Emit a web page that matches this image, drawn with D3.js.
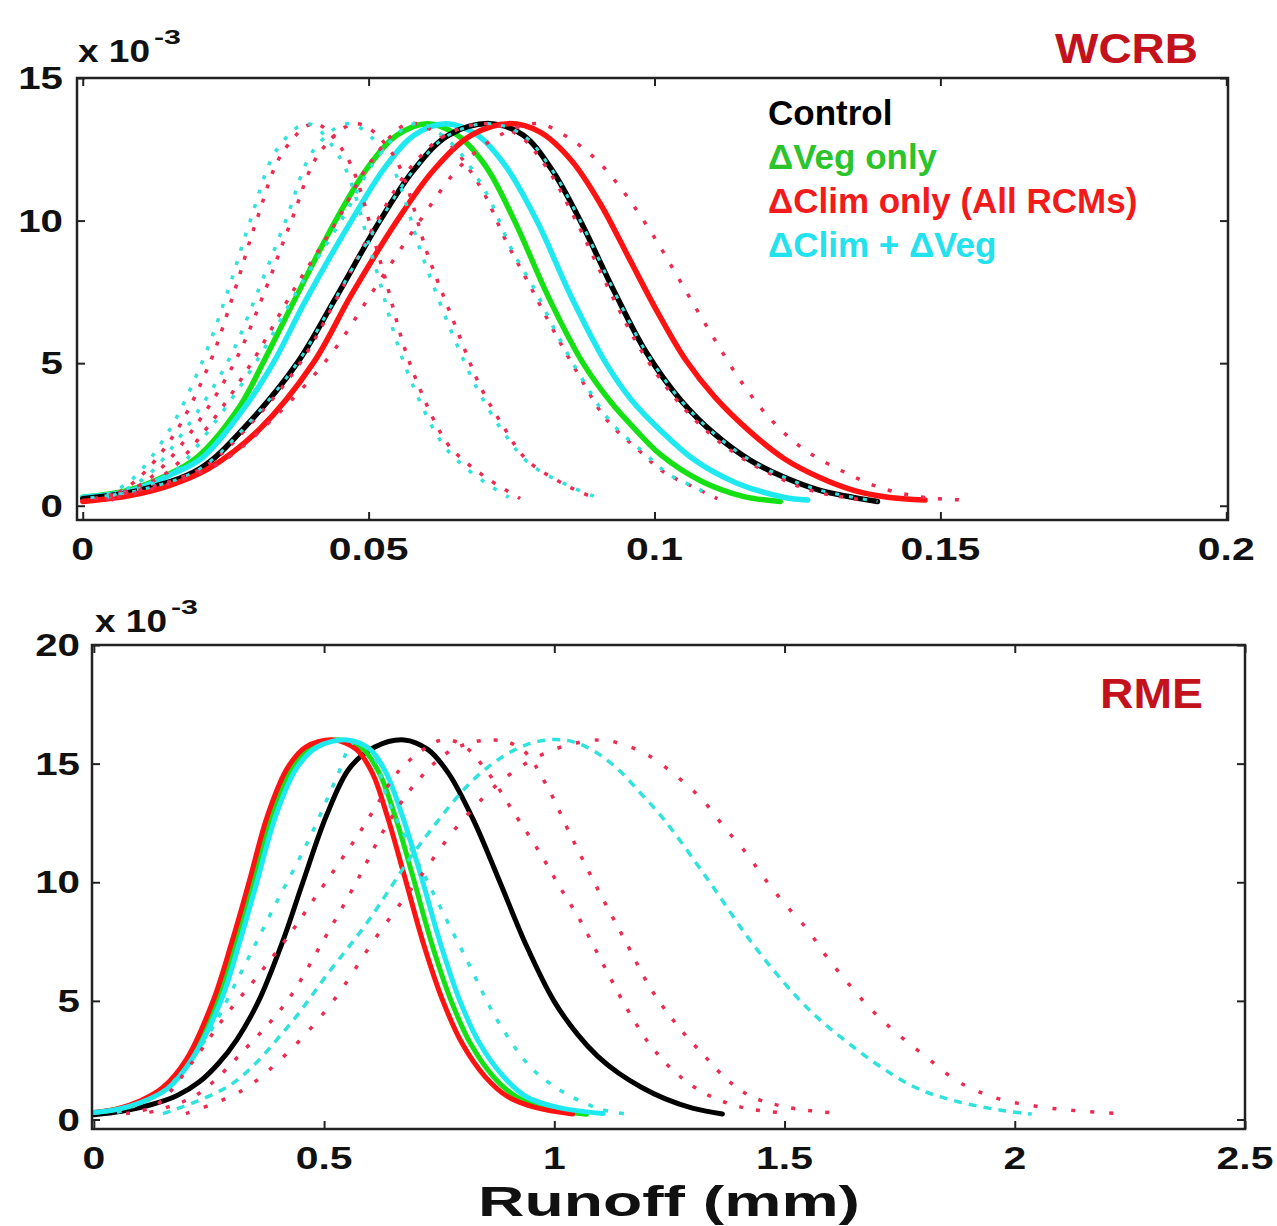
<!DOCTYPE html>
<html><head><meta charset="utf-8">
<script src="https://cdn.jsdelivr.net/npm/d3@7"></script>
<style>body{margin:0;background:#fff}svg{display:block}</style>
</head><body>
<svg id="c" width="1277" height="1226"></svg>
<script>
// ---------------- DATA (y values in units of 10^-3) ----------------
// Top panel: WCRB, runoff (mm)
const wcrbXTicks = [0, 0.05, 0.1, 0.15, 0.2];
const wcrbXTickLabels = ["0", "0.05", "0.1", "0.15", "0.2"];
const wcrbYTicks = [0, 5, 10, 15];
const wcrbYTickLabels = ["0", "5", "10", "15"];

const wcrbControl = [[0,0.25],[0.01,0.55],[0.0205,1.3],[0.029,2.9],[0.0375,5.0],[0.044,7.2],[0.052,10.0],[0.058,11.8],[0.064,13.0],[0.0712,13.4],[0.077,13.0],[0.082,11.8],[0.087,10.0],[0.093,7.5],[0.0985,5.4],[0.1046,3.7],[0.1106,2.5],[0.1167,1.6],[0.1227,1.0],[0.1288,0.55],[0.139,0.15]];
const wcrbVegOnly = [[0,0.3],[0.008,0.55],[0.015,1.1],[0.02,1.7],[0.0275,3.5],[0.0315,5.0],[0.037,7.2],[0.0445,10.1],[0.05,11.9],[0.055,13.0],[0.0603,13.4],[0.0655,13.0],[0.0705,11.9],[0.0755,10.0],[0.0815,7.3],[0.0875,5.0],[0.0925,3.6],[0.0963,2.75],[0.101,1.8],[0.1083,0.85],[0.1155,0.33],[0.122,0.15]];
const wcrbClimOnly = [[0,0.15],[0.008,0.35],[0.015,0.7],[0.022,1.3],[0.031,2.7],[0.0403,5.0],[0.047,7.4],[0.055,10.0],[0.0615,11.8],[0.068,13.0],[0.0745,13.4],[0.08,13.1],[0.0855,12.1],[0.0905,10.6],[0.0955,8.7],[0.1005,6.8],[0.1055,5.1],[0.1106,3.8],[0.1167,2.6],[0.1227,1.65],[0.1288,1.0],[0.1347,0.55],[0.1408,0.3],[0.1473,0.2]];
const wcrbClimVeg = [[0,0.3],[0.008,0.5],[0.0155,1.1],[0.021,1.7],[0.0285,3.5],[0.0333,5.0],[0.039,7.2],[0.047,10.0],[0.053,11.9],[0.058,13.0],[0.0635,13.4],[0.069,13.0],[0.074,11.9],[0.0794,10.0],[0.0855,7.3],[0.0915,5.0],[0.096,3.7],[0.101,2.65],[0.107,1.6],[0.1143,0.8],[0.1226,0.3],[0.1268,0.2]];

// individual RCMs, climate change only (red dotted)
const wcrbClimRcmA = [[0.004,0.2],[0.0094,0.9],[0.016,2.5],[0.0222,5.0],[0.0265,7.5],[0.0304,10.0],[0.035,12.4],[0.0405,13.4],[0.046,12.3],[0.052,8.6],[0.0572,5.0],[0.0637,2.2],[0.0672,1.5],[0.0712,0.9],[0.0765,0.25]];
const wcrbClimRcmB = [[0.005,0.2],[0.012,1.0],[0.019,2.6],[0.0265,5.0],[0.032,7.6],[0.0365,10.0],[0.0415,12.4],[0.0478,13.4],[0.054,12.4],[0.0607,8.6],[0.0654,6.2],[0.0695,4.2],[0.0735,2.8],[0.0777,1.6],[0.0847,0.7],[0.0892,0.3]];
const wcrbClimRcmC = [[0.002,0.25],[0.009,0.6],[0.015,1.2],[0.022,2.8],[0.0295,5.0],[0.037,7.6],[0.0445,10.0],[0.0505,12.1],[0.057,13.4],[0.063,12.9],[0.0695,11.2],[0.074,9.3],[0.078,7.8],[0.0822,6.2],[0.087,4.5],[0.0917,3.0],[0.0975,1.9],[0.1015,1.2],[0.1074,0.6],[0.111,0.25]];
const wcrbClimRcmD = [[0.002,0.25],[0.011,0.6],[0.0215,1.4],[0.0295,2.9],[0.038,5.0],[0.0445,7.3],[0.0515,10.0],[0.0575,11.9],[0.0635,13.0],[0.0705,13.4],[0.0762,13.0],[0.081,11.9],[0.086,10.1],[0.092,7.6],[0.0975,5.5],[0.1035,3.8],[0.1095,2.55],[0.1155,1.65],[0.1215,1.0],[0.128,0.5],[0.1365,0.2]];
const wcrbClimRcmE = [[0.006,0.3],[0.014,0.7],[0.024,1.5],[0.033,3.0],[0.043,5.2],[0.051,7.6],[0.059,10.0],[0.066,11.9],[0.073,13.0],[0.0795,13.4],[0.085,12.9],[0.09,12.1],[0.095,10.9],[0.1,9.4],[0.105,7.7],[0.11,6.0],[0.115,4.4],[0.12,3.1],[0.126,2.0],[0.133,1.2],[0.14,0.6],[0.147,0.3],[0.154,0.2]];
// individual RCMs, climate + vegetation change (cyan dotted)
const wcrbClimVegRcmA = [[0.003,0.25],[0.0085,0.9],[0.015,2.6],[0.021,5.1],[0.0255,7.6],[0.0293,10.0],[0.034,12.5],[0.0393,13.4],[0.045,12.2],[0.051,8.5],[0.0562,5.0],[0.0625,2.3],[0.066,1.5],[0.0705,0.8],[0.0745,0.3]];
const wcrbClimVegRcmB = [[0.004,0.25],[0.011,1.0],[0.018,2.7],[0.0255,5.1],[0.031,7.7],[0.0355,10.0],[0.0405,12.5],[0.0465,13.4],[0.053,12.3],[0.0595,8.7],[0.0645,6.1],[0.069,4.1],[0.0735,2.6],[0.078,1.5],[0.085,0.7],[0.0905,0.25]];
const wcrbClimVegRcmC = [[0.003,0.25],[0.01,0.6],[0.016,1.2],[0.023,2.9],[0.0305,5.1],[0.038,7.7],[0.0455,10.1],[0.0515,12.2],[0.058,13.4],[0.064,12.8],[0.0705,11.0],[0.075,9.0],[0.079,7.6],[0.083,6.0],[0.0878,4.3],[0.0925,2.9],[0.0985,1.8],[0.1025,1.1],[0.108,0.55],[0.1095,0.3]];
const wcrbClimVegRcmD = [[0,0.25],[0.01,0.55],[0.0205,1.3],[0.029,2.9],[0.0375,5.0],[0.044,7.2],[0.052,10.0],[0.058,11.8],[0.064,13.0],[0.0712,13.4],[0.077,13.0],[0.082,11.8],[0.087,10.0],[0.093,7.5],[0.0985,5.4],[0.1046,3.7],[0.1106,2.5],[0.1167,1.6],[0.1227,1.0],[0.1288,0.55],[0.139,0.15]];

// Bottom panel: RME
const rmeXTicks = [0, 0.5, 1, 1.5, 2, 2.5];
const rmeXTickLabels = ["0", "0.5", "1", "1.5", "2", "2.5"];
const rmeYTicks = [0, 5, 10, 15, 20];
const rmeYTickLabels = ["0", "5", "10", "15", "20"];

const rmeControl = [[0,0.2],[0.06,0.35],[0.12,0.6],[0.18,1.0],[0.23,1.6],[0.27,2.35],[0.31,3.35],[0.358,5.0],[0.41,7.5],[0.454,10.0],[0.505,12.8],[0.555,14.8],[0.61,15.7],[0.674,16.0],[0.725,15.6],[0.77,14.6],[0.825,12.6],[0.882,10.0],[0.94,7.3],[0.999,5.0],[1.05,3.6],[1.095,2.65],[1.14,1.95],[1.19,1.35],[1.24,0.88],[1.3,0.48],[1.365,0.23]];
const rmeVegOnly = [[0,0.3],[0.05,0.44],[0.1,0.72],[0.155,1.3],[0.207,2.55],[0.267,5.0],[0.308,7.5],[0.345,10.0],[0.386,12.8],[0.43,14.8],[0.472,15.7],[0.535,16.0],[0.585,15.6],[0.62,14.6],[0.654,12.8],[0.692,10.3],[0.734,7.4],[0.776,5.0],[0.818,3.2],[0.868,1.8],[0.918,0.95],[0.98,0.48],[1.07,0.22]];
const rmeClimOnly = [[0,0.3],[0.05,0.45],[0.1,0.78],[0.15,1.35],[0.2,2.5],[0.259,5.0],[0.3,7.5],[0.337,10.0],[0.377,12.8],[0.42,14.8],[0.46,15.7],[0.52,16.0],[0.57,15.6],[0.605,14.6],[0.637,12.8],[0.674,10.3],[0.716,7.4],[0.758,5.0],[0.8,3.2],[0.85,1.8],[0.9,0.95],[0.96,0.5],[1.04,0.23]];
const rmeClimVeg = [[0,0.3],[0.05,0.42],[0.1,0.7],[0.16,1.3],[0.215,2.6],[0.276,5.0],[0.317,7.5],[0.354,10.0],[0.395,12.8],[0.44,14.8],[0.485,15.7],[0.55,16.0],[0.6,15.6],[0.635,14.6],[0.67,12.8],[0.71,10.3],[0.753,7.4],[0.795,5.0],[0.838,3.2],[0.89,1.8],[0.94,0.95],[1.01,0.5],[1.106,0.25]];

const rmeClimRcm1 = [[0.07,0.25],[0.135,0.6],[0.217,2.5],[0.283,4.3],[0.358,6.1],[0.425,7.8],[0.475,9.2],[0.525,10.6],[0.574,12.0],[0.616,13.3],[0.658,14.6],[0.716,15.6],[0.757,16.0],[0.8,15.8],[0.853,14.7],[0.91,13.0],[0.97,11.2],[1.012,9.8],[1.056,8.4],[1.11,6.4],[1.16,4.6],[1.21,3.1],[1.262,2.0],[1.327,1.1],[1.41,0.5],[1.5,0.28]];
const rmeClimRcm2 = [[0.1,0.2],[0.22,1.0],[0.33,3.0],[0.42,5.0],[0.5,7.6],[0.57,10.0],[0.63,12.2],[0.7,14.2],[0.78,15.6],[0.87,16.0],[0.93,15.6],[0.98,14.2],[1.04,11.8],[1.1,9.5],[1.155,7.5],[1.21,5.5],[1.27,3.9],[1.33,2.6],[1.38,1.6],[1.43,0.95],[1.51,0.5],[1.605,0.28]];
const rmeClimRcm3 = [[0.2,0.25],[0.32,1.2],[0.42,2.8],[0.52,5.0],[0.61,7.6],[0.7,10.0],[0.8,12.6],[0.9,14.5],[1.0,15.6],[1.1,16.0],[1.15,15.8],[1.2,15.4],[1.27,14.4],[1.325,13.4],[1.37,12.3],[1.418,11.2],[1.455,10.2],[1.5,9.1],[1.55,8.0],[1.59,6.9],[1.64,5.7],[1.69,4.6],[1.746,3.6],[1.81,2.6],[1.877,1.6],[1.96,0.9],[2.05,0.55],[2.14,0.36],[2.245,0.23]];
const rmeClimVegRcm1 = [[0.05,0.3],[0.15,1.2],[0.24,3.3],[0.317,6.1],[0.39,8.9],[0.467,11.8],[0.525,14.3],[0.565,15.9],[0.6,15.6],[0.64,13.4],[0.723,10.1],[0.808,6.8],[0.882,4.0],[0.965,1.9],[1.09,0.5],[1.17,0.2]];
const rmeClimVegRcm2 = [[0.15,0.25],[0.3,1.5],[0.425,4.0],[0.51,6.2],[0.59,8.2],[0.716,11.8],[0.84,14.6],[0.94,15.8],[1.02,16.0],[1.08,15.6],[1.136,14.8],[1.19,13.7],[1.24,12.6],[1.334,10.1],[1.427,7.5],[1.52,5.3],[1.577,4.2],[1.64,3.2],[1.71,2.2],[1.79,1.3],[1.877,0.75],[1.98,0.36],[2.037,0.23]];

const legendLabels = ["Control", "\u0394Veg only", "\u0394Clim only (All RCMs)", "\u0394Clim + \u0394Veg"];
const panelTitles = ["WCRB", "RME"];
const xAxisTitle = "Runoff (mm)";

// ---------------- STYLE ----------------
const C = {black:"#000000", green:"#14e014", red:"#ff1212", cyan:"#1ee9f0",
           dotRed:"#ee2a50", dotCyan:"#30e2dc", frame:"#222222", title:"#c3121c",
           legGreen:"#2bc42b", legRed:"#f21a1a", legCyan:"#22e2ee"};
const FONT = "'Liberation Sans', Arial, Helvetica, sans-serif";

const svg = d3.select("#c");
svg.append("rect").attr("width",1277).attr("height",1226).attr("fill","#fff");

function drawPanel(o){
  const {x, y, id} = o;
  const [x0,x1] = x.range(), [y1,y0] = y.range();
  const g = svg.append("g");
  g.append("clipPath").attr("id","clip"+id).append("rect")
    .attr("x",x0).attr("y",y0).attr("width",x1-x0).attr("height",y1-y0);
  const plot = g.append("g").attr("clip-path",`url(#clip${id})`);
  const line = d3.line().x(d=>x(d[0])).y(d=>y(d[1])).curve(d3.curveCatmullRom.alpha(0.5));
  o.solids.forEach(s=>{
    plot.append("path").datum(s.data).attr("d",line).attr("fill","none")
      .attr("stroke",s.color).attr("stroke-width",s.w).attr("stroke-linejoin","round").attr("stroke-linecap","round");
  });
  o.dotted.forEach(s=>{
    plot.append("path").datum(s.data).attr("d",line).attr("fill","none")
      .attr("stroke",s.color).attr("stroke-width",s.sw||3.5).attr("stroke-dasharray",s.dash)
      .attr("stroke-dashoffset",s.off||0);
  });
  // frame
  g.append("rect").attr("x",x0).attr("y",y0).attr("width",x1-x0).attr("height",y1-y0)
    .attr("fill","none").attr("stroke",C.frame).attr("stroke-width",2.5);
  // inward ticks via d3 axes
  const fmt = ()=>"";
  const axes = [
    [d3.axisBottom(x).tickValues(o.xt), `translate(0,${y1})`],
    [d3.axisTop(x).tickValues(o.xt), `translate(0,${y0})`],
    [d3.axisLeft(y).tickValues(o.yt), `translate(${x0},0)`],
    [d3.axisRight(y).tickValues(o.yt), `translate(${x1},0)`]
  ];
  axes.forEach(([ax,tr])=>{
    const a = g.append("g").attr("transform",tr).call(ax.tickSize(-8).tickFormat(fmt));
    a.select(".domain").remove();
    a.selectAll(".tick line").attr("stroke",C.frame).attr("stroke-width",2);
  });
  // tick labels
  o.xt.forEach((v,i)=>{
    g.append("text").attr("transform",`translate(${x(v)},${y1+40}) scale(1.32,1)`)
      .attr("text-anchor","middle").attr("font-family",FONT).attr("font-weight","bold")
      .attr("font-size",31).attr("fill","#111").text(o.xl[i]);
  });
  o.yt.forEach((v,i)=>{
    g.append("text").attr("transform",`translate(${o.yLabRight},${y(v)+11}) scale(1.3,1)`)
      .attr("text-anchor","end").attr("font-family",FONT).attr("font-weight","bold")
      .attr("font-size",31).attr("fill","#111").text(o.yl[i]);
  });
  // exponent label
  const ex = g.append("g").attr("transform",`translate(${o.expX},${o.expY})`);
  ex.append("text").attr("font-family",FONT).attr("font-weight","bold").attr("font-size",31)
    .attr("fill","#111").attr("textLength",72).attr("lengthAdjust","spacingAndGlyphs").text("x 10");
  ex.append("text").attr("x",76).attr("y",-18).attr("font-family",FONT).attr("font-weight","bold")
    .attr("font-size",21).attr("fill","#111").attr("textLength",27).attr("lengthAdjust","spacingAndGlyphs").text("-3");
  // title
  g.append("text").attr("x",o.titleX).attr("y",o.titleY).attr("font-family",FONT).attr("font-weight","bold")
    .attr("font-size",42).attr("fill",C.title).attr("textLength",o.titleW).attr("lengthAdjust","spacingAndGlyphs")
    .text(o.title);
  return g;
}

// ---------------- TOP PANEL ----------------
const xTop = d3.scaleLinear().domain([-0.001, 0.2003]).range([77, 1228]);
const yTop = d3.scaleLinear().domain([-0.5, 15]).range([520, 78]);
const dT = "4,11";
const gTop = drawPanel({
  id:"top", x:xTop, y:yTop, xt:wcrbXTicks, xl:wcrbXTickLabels, yt:wcrbYTicks, yl:wcrbYTickLabels,
  yLabRight:63, expX:78, expY:62, title:panelTitles[0], titleX:1055, titleY:63, titleW:143,
  solids:[
    {data:wcrbVegOnly, color:C.green, w:5.5},
    {data:wcrbClimVeg, color:C.cyan, w:5.5},
    {data:wcrbControl, color:C.black, w:5.5},
    {data:wcrbClimOnly, color:C.red, w:5.5}
  ],
  dotted:[
    {data:wcrbClimRcmA, color:C.dotRed, dash:dT},
    {data:wcrbClimVegRcmA, color:C.dotCyan, dash:dT, off:7},
    {data:wcrbClimRcmB, color:C.dotRed, dash:dT},
    {data:wcrbClimVegRcmB, color:C.dotCyan, dash:dT, off:7},
    {data:wcrbClimRcmC, color:C.dotRed, dash:dT},
    {data:wcrbClimVegRcmC, color:C.dotCyan, dash:dT, off:7},
    {data:wcrbClimRcmD, color:C.dotRed, dash:dT},
    {data:wcrbClimVegRcmD, color:C.dotCyan, dash:"4,10", off:6, sw:3},
    {data:wcrbClimRcmE, color:C.dotRed, dash:"4,13"}
  ]
});
// legend
const legColors = [C.black, C.legGreen, C.legRed, C.legCyan];
legendLabels.forEach((t,i)=>{
  gTop.append("text").attr("x",768).attr("y",125+i*44).attr("font-family",FONT).attr("font-weight","bold")
    .attr("font-size",35).attr("fill",legColors[i]).text(t);
});

// ---------------- BOTTOM PANEL ----------------
const xBot = d3.scaleLinear().domain([-0.004, 2.5]).range([92, 1245]);
const yBot = d3.scaleLinear().domain([-0.4, 20]).range([1129, 645]);
drawPanel({
  id:"bot", x:xBot, y:yBot, xt:rmeXTicks, xl:rmeXTickLabels, yt:rmeYTicks, yl:rmeYTickLabels,
  yLabRight:80, expX:95, expY:632, title:panelTitles[1], titleX:1100, titleY:708, titleW:103,
  solids:[
    {data:rmeControl, color:C.black, w:5},
    {data:rmeVegOnly, color:C.green, w:5},
    {data:rmeClimOnly, color:C.red, w:5},
    {data:rmeClimVeg, color:C.cyan, w:5}
  ],
  dotted:[
    {data:rmeClimVegRcm1, color:C.dotCyan, dash:"5,11"},
    {data:rmeClimRcm1, color:C.dotRed, dash:"4,13"},
    {data:rmeClimRcm2, color:C.dotRed, dash:"4,13", off:7},
    {data:rmeClimVegRcm2, color:C.dotCyan, dash:"8,7"},
    {data:rmeClimRcm3, color:C.dotRed, dash:"4,15"}
  ]
});
svg.append("text").attr("x",478).attr("y",1216).attr("font-family",FONT).attr("font-weight","bold")
  .attr("font-size",42).attr("fill","#111").attr("textLength",382).attr("lengthAdjust","spacingAndGlyphs")
  .text(xAxisTitle);
</script>
</body></html>
